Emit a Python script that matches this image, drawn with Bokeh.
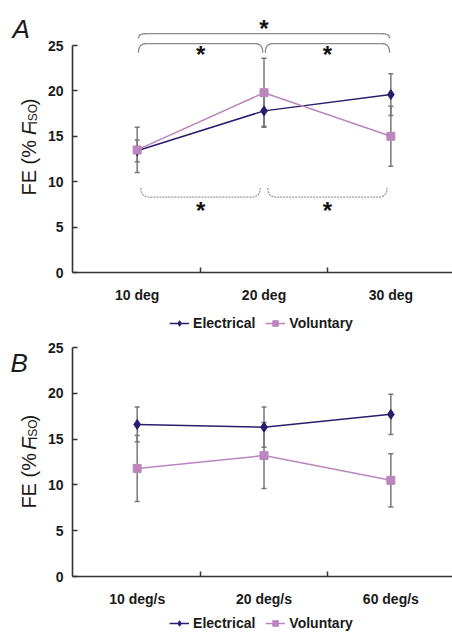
import numpy as np
from bokeh.plotting import figure
from bokeh.models import (Range1d, FixedTicker, ColumnDataSource, Whisker, TeeHead,
                          Legend, LegendItem, Label)
from bokeh.layouts import column, row
from bokeh.embed import file_html
from bokeh.resources import INLINE
from bokeh.core.properties import value

# ---------------- data ----------------
cats_a = ["10 deg", "20 deg", "30 deg"]
elec_a = [13.4, 17.8, 19.6]
elec_a_err = [1.2, 1.7, 2.3]
vol_a = [13.5, 19.8, 15.0]
vol_a_err = [2.5, 3.8, 3.3]

cats_b = ["10 deg/s", "20 deg/s", "60 deg/s"]
elec_b = [16.6, 16.3, 17.7]
elec_b_err = [1.9, 2.2, 2.2]
vol_b = [11.8, 13.2, 10.5]
vol_b_err = [3.6, 3.6, 2.9]

y_ticks = [0, 5, 10, 15, 20, 25]
series_names = ["Electrical", "Voluntary"]

# significance brackets in panel A: (from category, to category, level, end drop)
solid_brackets = [(0, 2, 26.3, -0.5), (0, 1, 25.2, -1.0), (1, 2, 25.2, -1.0)]
dotted_brackets = [(0, 1, 8.3, 1.0), (1, 2, 8.3, 1.0)]
solid_star_y = [27.5, 24.7, 24.7]
dotted_star_y = [7.5, 7.5]

ELEC = "#2b1d6e"
VOL = "#bb86be"
ERR = "#777777"
AXIS = "#333333"
TXT = "#1a1a1a"
FONT = "Liberation Sans"

SIDE_W = 44
MAIN_W = 452 - SIDE_W


def bracket_path(x0, x1, yl, drop, r=0.07, inset=0.0, n=12):
    x0 = x0 + inset
    x1 = x1 - inset
    ye = yl + drop
    t = np.linspace(0, 1, n)
    lx = (1 - t) ** 2 * x0 + 2 * (1 - t) * t * x0 + t ** 2 * (x0 + r)
    ly = (1 - t) ** 2 * ye + 2 * (1 - t) * t * yl + t ** 2 * yl
    rx = (1 - t) ** 2 * (x1 - r) + 2 * (1 - t) * t * x1 + t ** 2 * x1
    ry = (1 - t) ** 2 * yl + 2 * (1 - t) * t * yl + t ** 2 * ye
    return list(lx) + list(rx), list(ly) + list(ry)


def blank_fig(w, h):
    f = figure(width=w, height=h, output_backend="svg", toolbar_location=None,
               x_range=Range1d(0, w), y_range=Range1d(0, h), min_border=0,
               outline_line_color=None)
    f.axis.visible = False
    f.grid.visible = False
    return f


def make_panel(cats, elec, eerr, vol, verr, y_end, height, top_border, bottom_border,
               brackets=False):
    n = len(cats)
    xs = [i + 0.5 for i in range(n)]
    p = figure(width=MAIN_W, height=height, output_backend="svg",
               toolbar_location=None, x_range=Range1d(-0.01, 2.986),
               y_range=Range1d(0, y_end), min_border_left=26, min_border_right=0,
               min_border_top=top_border, min_border_bottom=bottom_border,
               outline_line_color=None)
    p.grid.visible = False

    p.xaxis.ticker = FixedTicker(ticks=xs, minor_ticks=[1, 2])
    p.xaxis.major_label_overrides = {x: c for x, c in zip(xs, cats)}
    p.xaxis.major_tick_line_color = None
    p.xaxis.major_tick_in = 0
    p.xaxis.major_tick_out = 0
    p.xaxis.minor_tick_in = 5
    p.xaxis.minor_tick_out = 0
    p.xaxis.minor_tick_line_color = AXIS
    p.xaxis.minor_tick_line_width = 1.5
    p.yaxis.ticker = FixedTicker(ticks=y_ticks)
    p.yaxis.bounds = (0, 25)
    p.yaxis.major_tick_in = 5
    p.yaxis.major_tick_out = 0
    p.yaxis.minor_tick_line_color = None
    p.yaxis.major_tick_line_color = AXIS
    p.yaxis.major_tick_line_width = 1.5
    for ax in (p.xaxis, p.yaxis):
        ax.axis_line_color = AXIS
        ax.axis_line_width = 1.6
        ax.major_label_text_font = FONT
        ax.major_label_text_font_style = "bold"
        ax.major_label_text_font_size = "14px"
        ax.major_label_text_color = TXT
    p.xaxis.major_label_standoff = 14
    p.yaxis.major_label_standoff = 9

    for vals, errs in ((elec, eerr), (vol, verr)):
        src = ColumnDataSource(dict(x=xs, upper=[v + e for v, e in zip(vals, errs)],
                                    lower=[v - e for v, e in zip(vals, errs)]))
        p.add_layout(Whisker(source=src, base="x", upper="upper", lower="lower",
                             line_color=ERR, line_width=1.5,
                             upper_head=TeeHead(size=5, line_color=ERR, line_width=1.5),
                             lower_head=TeeHead(size=5, line_color=ERR, line_width=1.5)))

    p.line(xs, elec, line_color=ELEC, line_width=1.5)
    p.scatter(xs, elec, marker="diamond", size=10, fill_color=ELEC, line_color=ELEC)
    p.line(xs, vol, line_color=VOL, line_width=1.5)
    p.scatter(xs, vol, marker="square", size=8, fill_color=VOL, line_color=VOL)

    if brackets:
        for (i0, i1, yl, d), sy in zip(solid_brackets, solid_star_y):
            bx, by = bracket_path(xs[i0], xs[i1], yl, d, r=0.06, inset=0.01)
            p.line(bx, by, line_color="#8a8a8a", line_width=1.3)
            p.text([(xs[i0] + xs[i1]) / 2], [sy], text=["*"], text_font=value(FONT),
                   text_font_style="bold", text_font_size="24px", text_align="center",
                   text_baseline="middle", y_offset=6, text_color="#111111")
        for (i0, i1, yl, d), sy in zip(dotted_brackets, dotted_star_y):
            bx, by = bracket_path(xs[i0], xs[i1], yl, d, r=0.07, inset=0.03)
            p.line(bx, by, line_color="#9a9a9a", line_width=1.3, line_dash="2 1")
            p.text([(xs[i0] + xs[i1]) / 2], [sy], text=["*"], text_font=value(FONT),
                   text_font_style="bold", text_font_size="24px", text_align="center",
                   text_baseline="middle", y_offset=6, text_color="#111111")
    return p


def make_side(height, letter, letter_x, letter_y, title_y):
    f = blank_fig(SIDE_W, height)
    f.add_layout(Label(x=letter_x, y=letter_y, text=letter, text_font=FONT,
                       text_font_style="italic", text_font_size="26px",
                       text_baseline="alphabetic", text_color=TXT))
    ang = np.pi / 2
    cx = 28
    pieces = [("FE (%", "20px", "normal", cx, title_y + 27.8),
              ("F", "20px", "italic", cx, title_y + 71.5),
              ("ISO", "12px", "normal", cx + 4.5, title_y + 88.0),
              (")", "20px", "normal", cx, title_y + 101.8)]
    for txt, size, style, x, y in pieces:
        f.add_layout(Label(x=x, y=y, text=txt, angle=ang, text_font=FONT,
                           text_font_size=size, text_font_style=style,
                           text_baseline="middle", text_align="center",
                           text_color=TXT))
    return f


def make_legend(height):
    f = figure(width=452, height=height, output_backend="svg", toolbar_location=None,
               x_range=Range1d(0, 1), y_range=Range1d(0, 1), min_border_left=70,
               min_border_right=0, min_border_top=0, min_border_bottom=0,
               outline_line_color=None)
    f.axis.visible = False
    f.grid.visible = False
    le = f.line([-10, -9], [-10, -9], line_color=ELEC, line_width=1.5)
    me = f.scatter([-10], [-10], marker="diamond", size=10, fill_color=ELEC, line_color=ELEC)
    lv = f.line([-10, -9], [-10, -9], line_color=VOL, line_width=1.5)
    mv = f.scatter([-10], [-10], marker="square", size=8, fill_color=VOL, line_color=VOL)
    lg = Legend(items=[LegendItem(label=series_names[0], renderers=[le, me]),
                       LegendItem(label=series_names[1], renderers=[lv, mv])],
                orientation="horizontal", location="center",
                label_text_font=FONT, label_text_font_style="bold",
                label_text_font_size="14px", label_text_color=TXT,
                glyph_width=20, glyph_height=14, label_standoff=4, spacing=10,
                padding=0, margin=0, border_line_color=None, background_fill_alpha=0)
    f.add_layout(lg, "center")
    return f


HA = 306
HLA = 34
HB = 270
HLB = 635 - HA - HLA - HB

pa = make_panel(cats_a, elec_a, elec_a_err, vol_a, vol_a_err, 272 / 9.08, HA, 0, 34,
                brackets=True)
sa = make_side(HA, "A", 12, HA - 32, 90)
la = make_legend(HLA)

pb = make_panel(cats_b, elec_b, elec_b_err, vol_b, vol_b_err, 25, HB, 7, 34)
sb = make_side(HB, "B", 10, HB - 18, 85)
lb = make_legend(HLB)

layout = column(row(sa, pa, spacing=0), la, row(sb, pb, spacing=0), lb, spacing=0)
open("out.html", "w").write(file_html(layout, INLINE))
